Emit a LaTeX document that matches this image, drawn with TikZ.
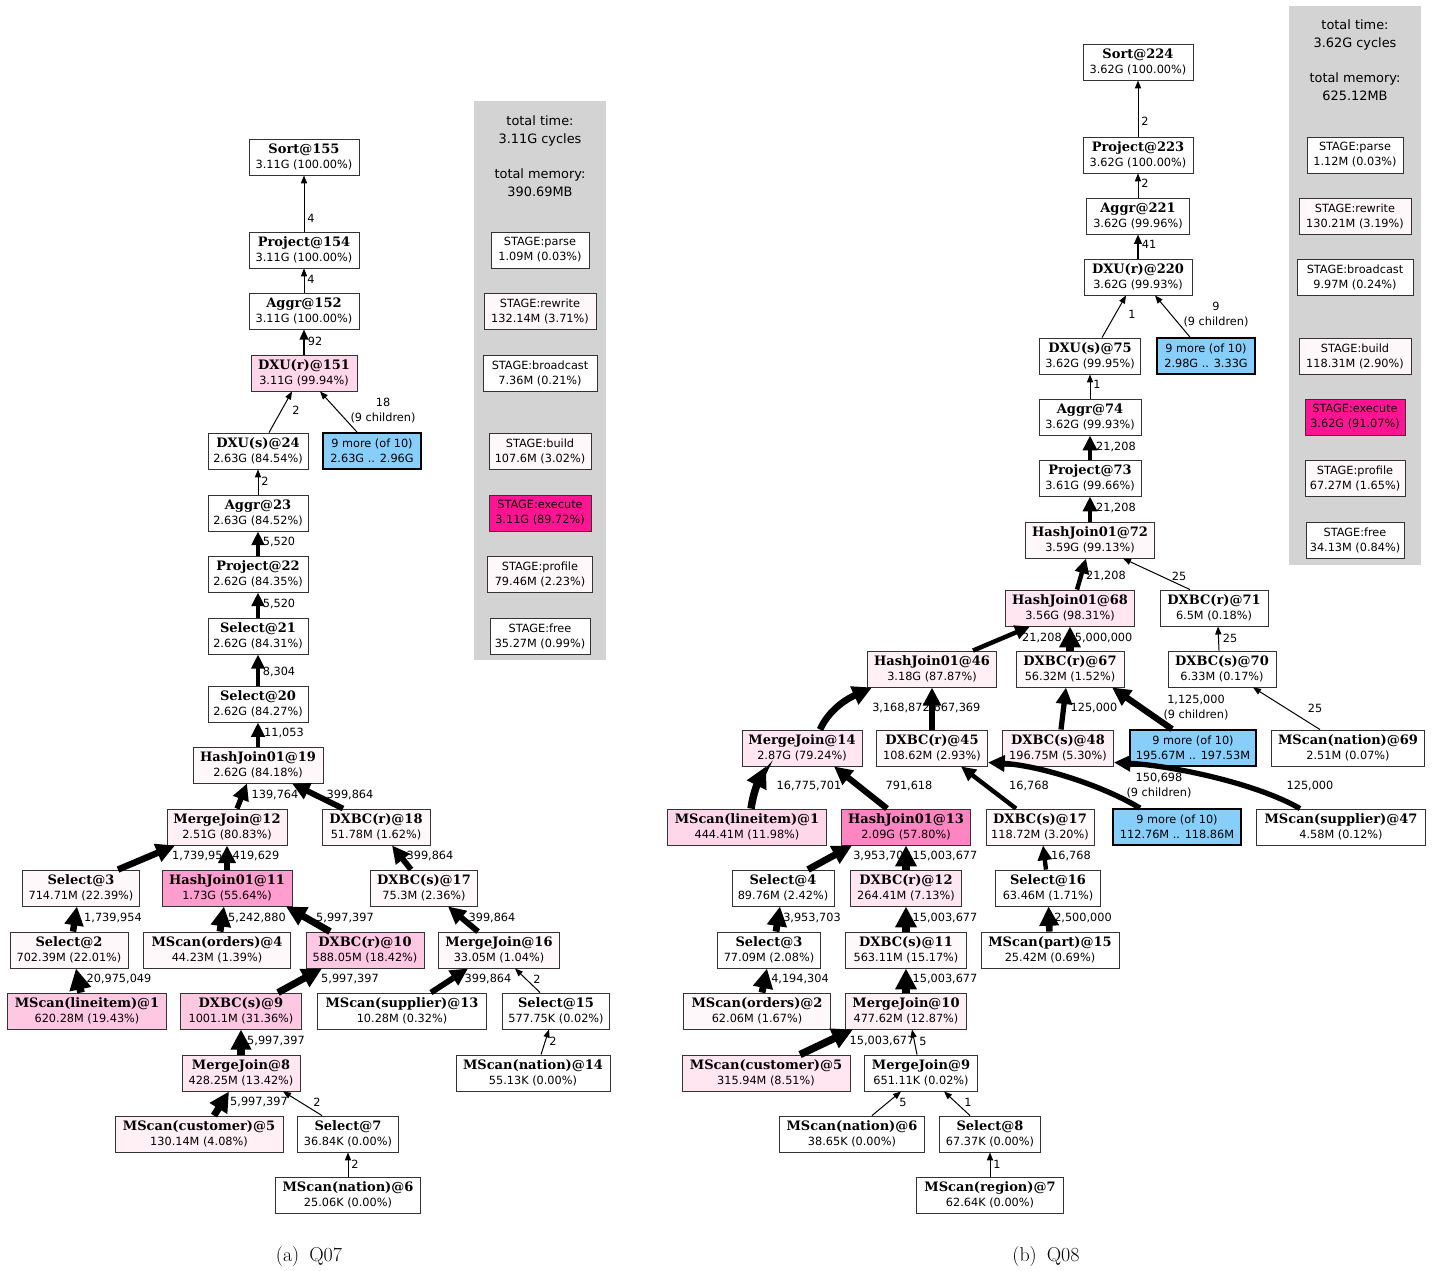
\documentclass[tikz,border=0pt]{standalone}
\usepackage{fontspec}
\usetikzlibrary{arrows.meta}
\newfontfamily\vls{DejaVu Sans}
\newfontfamily\opf{DejaVu Serif}
\definecolor{pka}{HTML}{FFF8FB}
\definecolor{pkb}{HTML}{FFF0F6}
\definecolor{pkc}{HTML}{FFE6F1}
\definecolor{pkd}{HTML}{FFD6EA}
\definecolor{pke}{HTML}{FFC8E2}
\definecolor{pkf}{HTML}{FF9ECE}
\definecolor{pkg}{HTML}{FF85C2}
\definecolor{deepk}{HTML}{FF1493}
\definecolor{skyb}{HTML}{87CEFA}
\definecolor{clus}{HTML}{D3D3D3}
\newcommand{\oplabel}[2]{{\opf\bfseries\fontsize{13}{15}\selectfont #1}\\#2}
\begin{document}
\begin{tikzpicture}[x=1pt,y=-1pt,
  opbox/.style={draw=black!80, line width=0.9pt, rectangle, minimum height=36pt,
    inner xsep=2pt, inner ysep=0pt, align=center,
    font=\vls\fontsize{11.3}{15}\selectfont, fill=white},
  morebox/.style={opbox, fill=skyb, draw=black, line width=1.8pt},
  hdr/.style={align=center, inner sep=0pt, font=\vls\fontsize{12.9}{18}\selectfont},
  lab/.style={align=center, inner sep=0pt, font=\vls\fontsize{11.3}{15}\selectfont},
  flow/.style={line width=#1pt, -{Triangle[length=6pt 2, width=4pt 2.2]}},
  capstyle/.style={inner sep=0pt, font=\rmfamily\fontsize{20}{23}\selectfont}]
\useasboundingbox (0,0) rectangle (1432,1270);
\fill[white] (0,0) rectangle (1432,1270);

% ---------------- Q07 ----------------
\fill[clus] (474,101) rectangle (606,660);
\node[hdr] (ttA) at (540,131) {total time:\\3.11G cycles};
\node[hdr] (tmA) at (540,183) {total memory:\\390.69MB};
\node[opbox, minimum width=98pt] (parseA) at (540,250) {STAGE:parse\\1.09M (0.03\%)};
\node[opbox, minimum width=112pt, fill=pka] (rewriteA) at (540,311) {STAGE:rewrite\\132.14M (3.71\%)};
\node[opbox, minimum width=114pt] (bcastA) at (540,373) {STAGE:broadcast\\7.36M (0.21\%)};
\node[opbox, minimum width=102pt, fill=pka] (buildA) at (540,451) {STAGE:build\\107.6M (3.02\%)};
\node[opbox, minimum width=102pt, fill=deepk] (execA) at (540,513) {STAGE:execute\\3.11G (89.72\%)};
\node[opbox, minimum width=105pt, fill=pka] (profA) at (540,574) {STAGE:profile\\79.46M (2.23\%)};
\node[opbox, minimum width=100pt] (freeA) at (540,636) {STAGE:free\\35.27M (0.99\%)};

\node[opbox, minimum width=110pt] (sort155) at (304,157) {\oplabel{Sort@155}{3.11G (100.00\%)}};
\node[opbox, minimum width=110pt] (proj154) at (304,250) {\oplabel{Project@154}{3.11G (100.00\%)}};
\node[opbox, minimum width=110pt] (aggr152) at (304,311) {\oplabel{Aggr@152}{3.11G (100.00\%)}};
\node[opbox, minimum width=106pt, fill=pkd] (dxur151) at (304,373) {\oplabel{DXU(r)@151}{3.11G (99.94\%)}};
\node[morebox, minimum width=98pt] (moreA) at (372,451) {9 more (of 10)\\2.63G .. 2.96G};
\node[opbox, minimum width=100pt] (dxus24) at (258,451) {\oplabel{DXU(s)@24}{2.63G (84.54\%)}};
\node[opbox, minimum width=100pt] (aggr23) at (258,513) {\oplabel{Aggr@23}{2.63G (84.52\%)}};
\node[opbox, minimum width=100pt] (proj22) at (258,574) {\oplabel{Project@22}{2.62G (84.35\%)}};
\node[opbox, minimum width=100pt] (sel21) at (258,636) {\oplabel{Select@21}{2.62G (84.31\%)}};
\node[opbox, minimum width=100pt] (sel20) at (258,704) {\oplabel{Select@20}{2.62G (84.27\%)}};
\node[opbox, minimum width=130pt, fill=pka] (hj19) at (258,765) {\oplabel{HashJoin01@19}{2.62G (84.18\%)}};
\node[opbox, minimum width=120pt, fill=pkb] (mj12) at (227,827) {\oplabel{MergeJoin@12}{2.51G (80.83\%)}};
\node[opbox, minimum width=108pt, fill=pka] (dxbcr18) at (376,827) {\oplabel{DXBC(r)@18}{51.78M (1.62\%)}};
\node[opbox, minimum width=117pt, fill=pka] (sel3) at (81,888) {\oplabel{Select@3}{714.71M (22.39\%)}};
\node[opbox, minimum width=130pt, fill=pkf] (hj11) at (227,888) {\oplabel{HashJoin01@11}{1.73G (55.64\%)}};
\node[opbox, minimum width=107pt, fill=pka] (dxbcs17) at (424,888) {\oplabel{DXBC(s)@17}{75.3M (2.36\%)}};
\node[opbox, minimum width=118pt, fill=pka] (sel2) at (69,950) {\oplabel{Select@2}{702.39M (22.01\%)}};
\node[opbox, minimum width=147pt, fill=pka] (msord4) at (217,950) {\oplabel{MScan(orders)@4}{44.23M (1.39\%)}};
\node[opbox, minimum width=118pt, fill=pke] (dxbcr10) at (365,950) {\oplabel{DXBC(r)@10}{588.05M (18.42\%)}};
\node[opbox, minimum width=121pt, fill=pka] (mj16) at (499,950) {\oplabel{MergeJoin@16}{33.05M (1.04\%)}};
\node[opbox, minimum width=159pt, fill=pke] (mslin1) at (87,1011) {\oplabel{MScan(lineitem)@1}{620.28M (19.43\%)}};
\node[opbox, minimum width=121pt, fill=pke] (dxbcs9) at (241,1011) {\oplabel{DXBC(s)@9}{1001.1M (31.36\%)}};
\node[opbox, minimum width=169pt] (mssup13) at (402,1011) {\oplabel{MScan(supplier)@13}{10.28M (0.32\%)}};
\node[opbox, minimum width=107pt] (sel15) at (556,1011) {\oplabel{Select@15}{577.75K (0.02\%)}};
\node[opbox, minimum width=118pt, fill=pkc] (mj8) at (241,1073) {\oplabel{MergeJoin@8}{428.25M (13.42\%)}};
\node[opbox, minimum width=154pt] (msnat14) at (533,1073) {\oplabel{MScan(nation)@14}{55.13K (0.00\%)}};
\node[opbox, minimum width=168pt, fill=pkb] (mscust5) at (199,1134) {\oplabel{MScan(customer)@5}{130.14M (4.08\%)}};
\node[opbox, minimum width=101pt] (sel7) at (348,1134) {\oplabel{Select@7}{36.84K (0.00\%)}};
\node[opbox, minimum width=145pt] (msnat6) at (348,1195) {\oplabel{MScan(nation)@6}{25.06K (0.00\%)}};

% edge labels (Q07)
\node[lab] (la1) at (311,218) {4};
\node[lab] (la2) at (311,279) {4};
\node[lab] (la3) at (315,341) {92};
\node[lab] (la4) at (296,410) {2};
\node[lab] (la5) at (383,411) {18\\(9 children)};
\node[lab] (la6) at (265,481) {2};
\node[lab] (la7) at (279,542) {5,520};
\node[lab] (la8) at (279,604) {5,520};
\node[lab] (la9) at (279,672) {8,304};
\node[lab] (la10) at (284,733) {11,053};
\node[lab] (la11) at (275,795) {139,764};
\node[lab] (la12) at (350,795) {399,864};
\node[lab] (la13) at (201,856) {1,739,954};
\node[lab] (la14) at (256,856) {419,629};
\node[lab] (la15) at (430,856) {399,864};
\node[lab] (la16) at (113,918) {1,739,954};
\node[lab] (la17) at (257,918) {5,242,880};
\node[lab] (la18) at (345,918) {5,997,397};
\node[lab] (la19) at (492,918) {399,864};
\node[lab] (la20) at (119,979) {20,975,049};
\node[lab] (la21) at (350,979) {5,997,397};
\node[lab] (la22) at (488,979) {399,864};
\node[lab] (la23) at (537,979) {2};
\node[lab] (la24) at (276,1041) {5,997,397};
\node[lab] (la25) at (553,1041) {2};
\node[lab] (la26) at (259,1102) {5,997,397};
\node[lab] (la27) at (317,1102) {2};
\node[lab] (la28) at (355,1164) {2};

% edges (Q07)
\draw[flow=1] (proj154) -- (sort155);
\draw[flow=1] (aggr152) -- (proj154);
\draw[flow=2.03] (dxur151) -- (aggr152);
\draw[flow=1] ([xshift=11pt]dxus24.north) -- ([xshift=-12pt]dxur151.south);
\draw[flow=1] ([xshift=-15pt]moreA.north) -- ([xshift=16pt]dxur151.south);
\draw[flow=1] (aggr23) -- (dxus24);
\draw[flow=3.88] (proj22) -- (aggr23);
\draw[flow=3.88] (sel21) -- (proj22);
\draw[flow=4.06] (sel20) -- (sel21);
\draw[flow=4.19] (hj19) -- (sel20);
\draw[flow=5.33] ([xshift=10pt]mj12.north) -- ([xshift=-11pt]hj19.south);
\draw[flow=5.8] ([xshift=-33pt]dxbcr18.north) -- ([xshift=34pt]hj19.south);
\draw[flow=6.47] ([xshift=37pt]sel3.north) -- ([xshift=-52pt]mj12.south);
\draw[flow=5.83] (hj11) -- (mj12);
\draw[flow=6.47] ([xshift=4pt]sel2.north) -- ([xshift=-4pt]sel3.south);
\draw[flow=6.96] ([xshift=3pt]msord4.north) -- ([xshift=-3pt]hj11.south);
\draw[flow=7.02] ([xshift=-35pt]dxbcr10.north) -- ([xshift=59pt]hj11.south);
\draw[flow=5.8] ([xshift=-13pt]dxbcs17.north) -- ([xshift=16pt]dxbcr18.south);
\draw[flow=5.8] ([xshift=-21pt]mj16.north) -- ([xshift=24pt]dxbcs17.south);
\draw[flow=7.59] ([xshift=-6pt]mslin1.north) -- ([xshift=7pt]sel2.south);
\draw[flow=7.02] ([xshift=37pt]dxbcs9.north) -- ([xshift=-43pt]dxbcr10.south);
\draw[flow=5.8] ([xshift=29pt]mssup13.north) -- ([xshift=-31pt]mj16.south);
\draw[flow=1] ([xshift=-16pt]sel15.north) -- ([xshift=16pt]mj16.south);
\draw[flow=7.02] (mj8) -- (dxbcs9);
\draw[flow=1] ([xshift=8pt]msnat14.north) -- ([xshift=-7pt]sel15.south);
\draw[flow=7.02] ([xshift=15pt]mscust5.north) -- ([xshift=-12pt]mj8.south);
\draw[flow=1] ([xshift=-26pt]sel7.north) -- ([xshift=42pt]mj8.south);
\draw[flow=1] (msnat6) -- (sel7);

% ---------------- Q08 ----------------
\fill[clus] (1289,6) rectangle (1421,565);
\node[hdr] (ttB) at (1355,35) {total time:\\3.62G cycles};
\node[hdr] (tmB) at (1355,87) {total memory:\\625.12MB};
\node[opbox, minimum width=96pt] (parseB) at (1355,155) {STAGE:parse\\1.12M (0.03\%)};
\node[opbox, minimum width=112pt, fill=pka] (rewriteB) at (1355,216) {STAGE:rewrite\\130.21M (3.19\%)};
\node[opbox, minimum width=116pt] (bcastB) at (1355,277) {STAGE:broadcast\\9.97M (0.24\%)};
\node[opbox, minimum width=112pt, fill=pka] (buildB) at (1355,356) {STAGE:build\\118.31M (2.90\%)};
\node[opbox, minimum width=100pt, fill=deepk] (execB) at (1355,417) {STAGE:execute\\3.62G (91.07\%)};
\node[opbox, minimum width=100pt, fill=pka] (profB) at (1355,478) {STAGE:profile\\67.27M (1.65\%)};
\node[opbox, minimum width=98pt] (freeB) at (1355,540) {STAGE:free\\34.13M (0.84\%)};

\node[opbox, minimum width=110pt] (sort224) at (1138,62) {\oplabel{Sort@224}{3.62G (100.00\%)}};
\node[opbox, minimum width=110pt] (proj223) at (1138,155) {\oplabel{Project@223}{3.62G (100.00\%)}};
\node[opbox, minimum width=103pt] (aggr221) at (1138,216) {\oplabel{Aggr@221}{3.62G (99.96\%)}};
\node[opbox, minimum width=108pt] (dxur220) at (1138,277) {\oplabel{DXU(r)@220}{3.62G (99.93\%)}};
\node[opbox, minimum width=101pt] (dxus75) at (1090,356) {\oplabel{DXU(s)@75}{3.62G (99.95\%)}};
\node[morebox, minimum width=98pt] (moreB) at (1206,356) {9 more (of 10)\\2.98G .. 3.33G};
\node[opbox, minimum width=102pt] (aggr74) at (1090,417) {\oplabel{Aggr@74}{3.62G (99.93\%)}};
\node[opbox, minimum width=102pt] (proj73) at (1090,478) {\oplabel{Project@73}{3.61G (99.66\%)}};
\node[opbox, minimum width=129pt, fill=pka] (hj72) at (1090,540) {\oplabel{HashJoin01@72}{3.59G (99.13\%)}};
\node[opbox, minimum width=129pt, fill=pkc] (hj68) at (1070,608) {\oplabel{HashJoin01@68}{3.56G (98.31\%)}};
\node[opbox, minimum width=108pt] (dxbcr71) at (1214,608) {\oplabel{DXBC(r)@71}{6.5M (0.18\%)}};
\node[opbox, minimum width=129pt, fill=pkb] (hj46) at (932,669) {\oplabel{HashJoin01@46}{3.18G (87.87\%)}};
\node[opbox, minimum width=108pt, fill=pka] (dxbcr67) at (1070,669) {\oplabel{DXBC(r)@67}{56.32M (1.52\%)}};
\node[opbox, minimum width=108pt] (dxbcs70) at (1222,669) {\oplabel{DXBC(s)@70}{6.33M (0.17\%)}};
\node[opbox, minimum width=120pt, fill=pkc] (mj14) at (802,748) {\oplabel{MergeJoin@14}{2.87G (79.24\%)}};
\node[opbox, minimum width=111pt, fill=pka] (dxbcr45) at (932,748) {\oplabel{DXBC(r)@45}{108.62M (2.93\%)}};
\node[opbox, minimum width=111pt, fill=pkb] (dxbcs48) at (1058,748) {\oplabel{DXBC(s)@48}{196.75M (5.30\%)}};
\node[morebox, minimum width=126pt] (moreC) at (1193,748) {9 more (of 10)\\195.67M .. 197.53M};
\node[opbox, minimum width=153pt] (msnat69) at (1348,748) {\oplabel{MScan(nation)@69}{2.51M (0.07\%)}};
\node[opbox, minimum width=159pt, fill=pkd] (mslinB) at (747,827) {\oplabel{MScan(lineitem)@1}{444.41M (11.98\%)}};
\node[opbox, minimum width=129pt, fill=pkg] (hj13) at (906,827) {\oplabel{HashJoin01@13}{2.09G (57.80\%)}};
\node[opbox, minimum width=108pt, fill=pka] (dxbcs17B) at (1040,827) {\oplabel{DXBC(s)@17}{118.72M (3.20\%)}};
\node[morebox, minimum width=128pt] (moreD) at (1177,827) {9 more (of 10)\\112.76M .. 118.86M};
\node[opbox, minimum width=169pt] (mssup47) at (1341,827) {\oplabel{MScan(supplier)@47}{4.58M (0.12\%)}};
\node[opbox, minimum width=102pt] (sel4) at (783,888) {\oplabel{Select@4}{89.76M (2.42\%)}};
\node[opbox, minimum width=111pt, fill=pkc] (dxbcr12) at (906,888) {\oplabel{DXBC(r)@12}{264.41M (7.13\%)}};
\node[opbox, minimum width=105pt] (sel16) at (1048,888) {\oplabel{Select@16}{63.46M (1.71\%)}};
\node[opbox, minimum width=103pt] (sel3B) at (769,950) {\oplabel{Select@3}{77.09M (2.08\%)}};
\node[opbox, minimum width=121pt, fill=pka] (dxbcs11) at (906,950) {\oplabel{DXBC(s)@11}{563.11M (15.17\%)}};
\node[opbox, minimum width=138pt] (mspart15) at (1050,950) {\oplabel{MScan(part)@15}{25.42M (0.69\%)}};
\node[opbox, minimum width=147pt, fill=pka] (msord2) at (757,1011) {\oplabel{MScan(orders)@2}{62.06M (1.67\%)}};
\node[opbox, minimum width=121pt, fill=pkb] (mj10) at (906,1011) {\oplabel{MergeJoin@10}{477.62M (12.87\%)}};
\node[opbox, minimum width=168pt, fill=pkc] (mscustB) at (766,1073) {\oplabel{MScan(customer)@5}{315.94M (8.51\%)}};
\node[opbox, minimum width=113pt] (mj9) at (921,1073) {\oplabel{MergeJoin@9}{651.11K (0.02\%)}};
\node[opbox, minimum width=145pt] (msnatB) at (852,1134) {\oplabel{MScan(nation)@6}{38.65K (0.00\%)}};
\node[opbox, minimum width=101pt] (sel8) at (990,1134) {\oplabel{Select@8}{67.37K (0.00\%)}};
\node[opbox, minimum width=147pt] (msreg7) at (990,1195) {\oplabel{MScan(region)@7}{62.64K (0.00\%)}};

% edge labels (Q08)
\node[lab] (lb1) at (1145,121) {2};
\node[lab] (lb2) at (1145,183) {2};
\node[lab] (lb3) at (1149,244) {41};
\node[lab] (lb4) at (1132,314) {1};
\node[lab] (lb5) at (1216,315) {9\\(9 children)};
\node[lab] (lb6) at (1097,384) {1};
\node[lab] (lb7) at (1116,447) {21,208};
\node[lab] (lb8) at (1116,508) {21,208};
\node[lab] (lb9) at (1106,576) {21,208};
\node[lab] (lb10) at (1179,576) {25};
\node[lab] (lb11) at (1042,638) {21,208};
\node[lab] (lb12) at (1100,638) {15,000,000};
\node[lab] (lb13) at (1230,638) {25};
\node[lab] (lb14) at (901,708) {3,168,872};
\node[lab] (lb15) at (957,708) {667,369};
\node[lab] (lb16) at (1094,708) {125,000};
\node[lab] (lb17) at (1196,708) {1,125,000\\(9 children)};
\node[lab] (lb18) at (1315,708) {25};
\node[lab] (lb19) at (809,786) {16,775,701};
\node[lab] (lb20) at (909,786) {791,618};
\node[lab] (lb21) at (1029,786) {16,768};
\node[lab] (lb22) at (1159,786) {150,698\\(9 children)};
\node[lab] (lb23) at (1310,786) {125,000};
\node[lab] (lb24) at (882,856) {3,953,703};
\node[lab] (lb25) at (945,856) {15,003,677};
\node[lab] (lb26) at (1071,856) {16,768};
\node[lab] (lb27) at (812,918) {3,953,703};
\node[lab] (lb28) at (945,918) {15,003,677};
\node[lab] (lb29) at (1083,918) {2,500,000};
\node[lab] (lb30) at (800,979) {4,194,304};
\node[lab] (lb31) at (945,979) {15,003,677};
\node[lab] (lb32) at (882,1041) {15,003,677};
\node[lab] (lb33) at (923,1041) {5};
\node[lab] (lb34) at (903,1102) {5};
\node[lab] (lb35) at (968,1102) {1};
\node[lab] (lb36) at (997,1164) {1};

% edges (Q08)
\draw[flow=1] (proj223) -- (sort224);
\draw[flow=1] (aggr221) -- (proj223);
\draw[flow=1.67] (dxur220) -- (aggr221);
\draw[flow=1] ([xshift=12pt]dxus75.north) -- ([xshift=-12pt]dxur220.south);
\draw[flow=1] ([xshift=-16pt]moreB.north) -- ([xshift=17pt]dxur220.south);
\draw[flow=1] (aggr74) -- (dxus75);
\draw[flow=4.48] (proj73) -- (aggr74);
\draw[flow=4.48] (hj72) -- (proj73);
\draw[flow=4.48] ([xshift=7pt]hj68.north) -- ([xshift=-4pt]hj72.south);
\draw[flow=1] ([xshift=-24pt]dxbcr71.north) -- ([xshift=33pt]hj72.south);
\draw[flow=4.48] ([xshift=41pt]hj46.north) -- ([xshift=-40pt]hj68.south);
\draw[flow=7.44] (dxbcr67) -- (hj68);
\draw[flow=1] ([xshift=-3pt]dxbcs70.north) -- ([xshift=4pt]dxbcr71.south);
\draw[flow=6.74] ([xshift=18pt]mj14.north) .. controls +(10,-22) and +(-22,10) .. ([xshift=-60pt]hj46.south);
\draw[flow=6.04] (dxbcr45) -- (hj46);
\draw[flow=5.28] ([xshift=3pt]dxbcs48.north) -- ([xshift=-4pt]dxbcr67.south);
\draw[flow=6.27] ([xshift=-21pt]moreC.north) -- ([xshift=42pt]dxbcr67.south);
\draw[flow=1] ([xshift=-28pt]msnat69.north) -- ([xshift=31pt]dxbcs70.south);
\draw[flow=7.49] ([xshift=4pt]mslinB.north) .. controls +(3,-20) and +(-6,12) .. ([xshift=-36pt]mj14.south);
\draw[flow=6.11] ([xshift=-19pt]hj13.north) -- ([xshift=32pt]mj14.south);
\draw[flow=4.38] ([xshift=-24pt]dxbcs17B.north) -- ([xshift=29pt]dxbcr45.south);
\draw[flow=5.37] ([xshift=-37pt]moreD.north) .. controls +(-40,-24) and +(50,3) .. ([yshift=4pt]dxbcr45.south east);
\draw[flow=5.28] ([xshift=-41pt]mssup47.north) .. controls +(-45,-26) and +(56,3) .. ([yshift=4pt]dxbcs48.south east);
\draw[flow=6.84] ([xshift=25pt]sel4.north) -- ([xshift=-54pt]hj13.south);
\draw[flow=7.44] (dxbcr12) -- (hj13);
\draw[flow=4.38] ([xshift=-2pt]sel16.north) -- ([xshift=3pt]dxbcs17B.south);
\draw[flow=6.84] ([xshift=7pt]sel3B.north) -- ([xshift=-3pt]sel4.south);
\draw[flow=7.44] (dxbcs11) -- (dxbcr12);
\draw[flow=6.63] (mspart15) -- (sel16);
\draw[flow=6.86] ([xshift=5pt]msord2.north) -- ([xshift=-2pt]sel3B.south);
\draw[flow=7.44] (mj10) -- (dxbcs11);
\draw[flow=7.44] ([xshift=34pt]mscustB.north) -- ([xshift=-53pt]mj10.south);
\draw[flow=1] ([xshift=-4pt]mj9.north) -- ([xshift=6pt]mj10.south);
\draw[flow=1] ([xshift=20pt]msnatB.north) -- ([xshift=-20pt]mj9.south);
\draw[flow=1] ([xshift=-20pt]sel8.north) -- ([xshift=23pt]mj9.south);
\draw[flow=1] (msreg7) -- (sel8);

% sub-figure captions
\node[capstyle] (capA) at (309,1256) {(a)\hspace{10pt}Q07};
\node[capstyle] (capB) at (1046,1256) {(b)\hspace{10pt}Q08};
\end{tikzpicture}
\end{document}
